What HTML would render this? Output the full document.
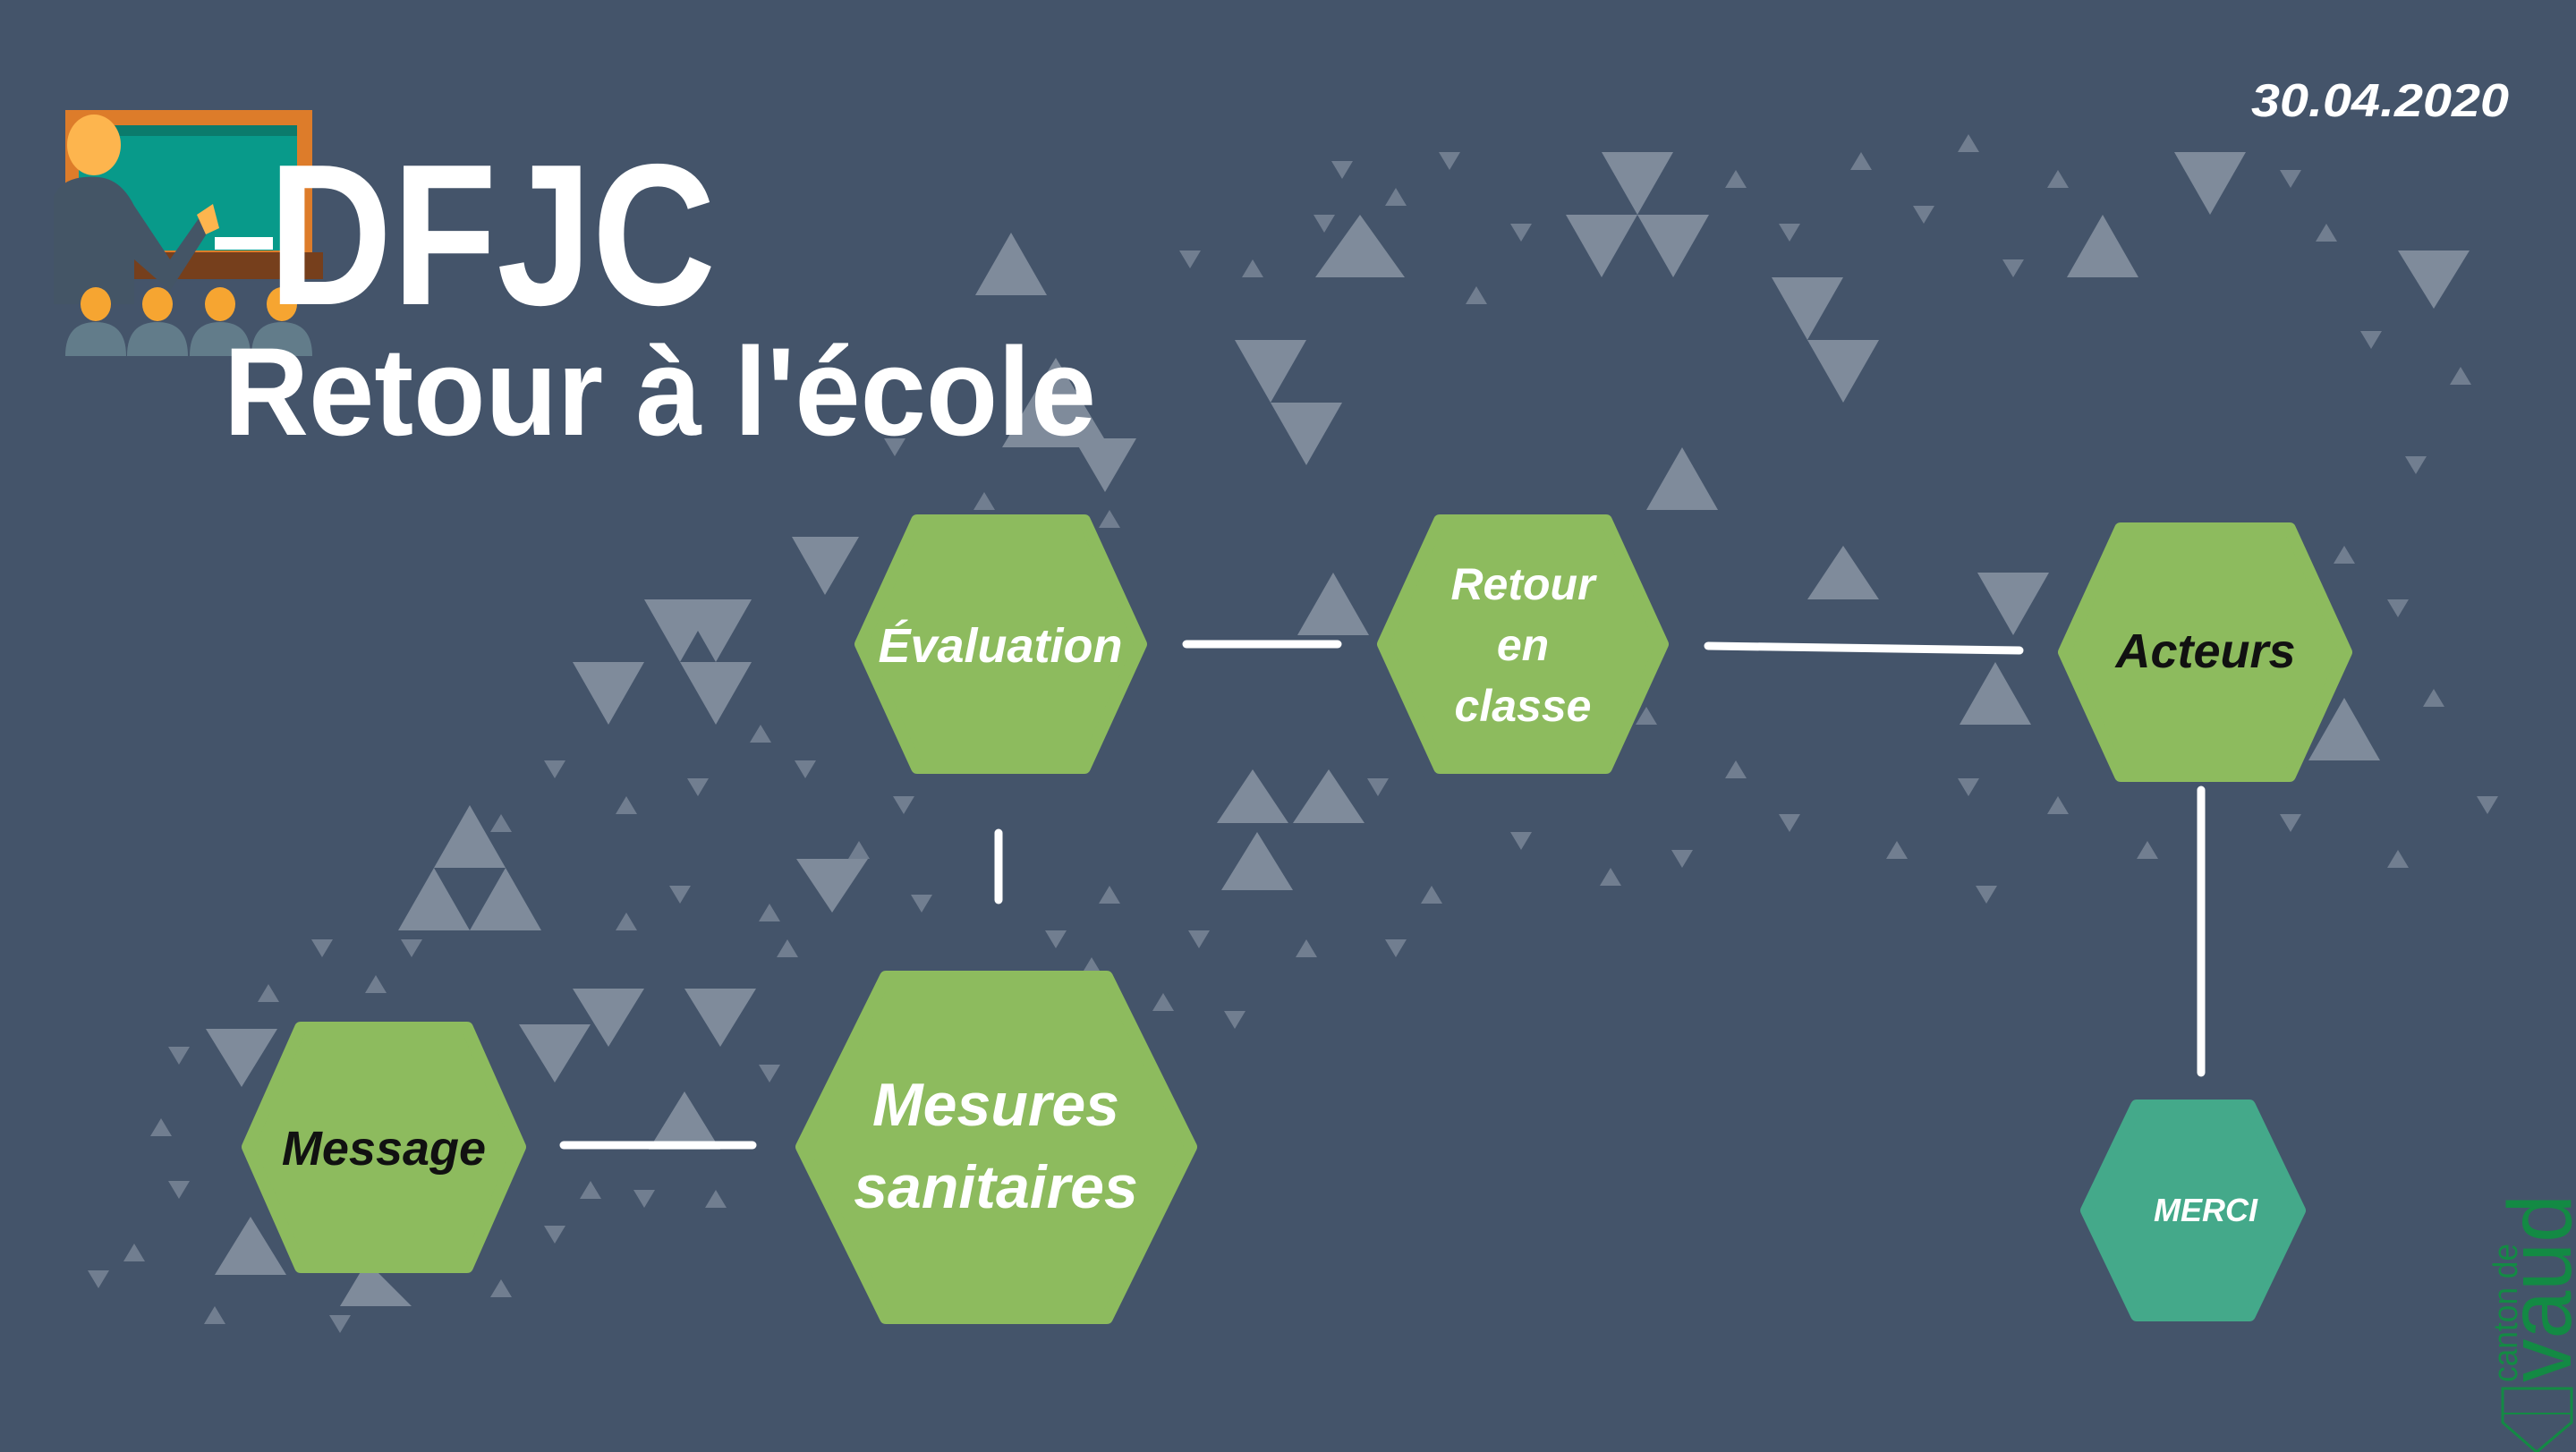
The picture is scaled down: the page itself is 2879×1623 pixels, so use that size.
<!DOCTYPE html>
<html><head><meta charset="utf-8"><style>
html,body{margin:0;padding:0;background:#44546a;}
svg{display:block}
</style></head><body>
<svg width="2879" height="1623" viewBox="0 0 2879 1623" xmlns="http://www.w3.org/2000/svg">
<defs>
<polygon id="u" points="-12,-10 12,-10 0,10"/>
<polygon id="d" points="-12,10 12,10 0,-10"/>
</defs>
<rect width="2879" height="1623" fill="#44546a"/>
<g fill="#c7cfd8" opacity="0.45">
<polygon points="1790,170 1870,170 1830,240"/><polygon points="1750,240 1830,240 1790,310"/><polygon points="1830,240 1910,240 1870,310"/>
<polygon points="1380,380 1460,380 1420,450"/><polygon points="1420,450 1500,450 1460,520"/>
<polygon points="1520,240 1570,310 1470,310"/><polygon points="1180,400 1240,500 1120,500"/><polygon points="1200,490 1270,490 1235,550"/>
<polygon points="1980,310 2060,310 2020,380"/><polygon points="2020,380 2100,380 2060,450"/>
<polygon points="2430,170 2510,170 2470,240"/><polygon points="2350,240 2390,310 2310,310"/>
<polygon points="2680,280 2760,280 2720,345"/>
<polygon points="1880,500 1920,570 1840,570"/><polygon points="2060,610 2100,670 2020,670"/>
<polygon points="1490,640 1530,710 1450,710"/><polygon points="885,600 960,600 922,665"/>
<polygon points="720,670 800,670 760,740"/><polygon points="760,670 840,670 800,740"/><polygon points="640,740 720,740 680,810"/><polygon points="760,740 840,740 800,810"/>
<polygon points="2210,640 2290,640 2250,710"/><polygon points="2230,740 2270,810 2190,810"/><polygon points="2620,780 2660,850 2580,850"/>
<polygon points="1400,860 1440,920 1360,920"/><polygon points="1485,860 1525,920 1445,920"/><polygon points="1405,930 1445,995 1365,995"/>
<polygon points="525,900 565,970 485,970"/><polygon points="485,970 525,1040 445,1040"/><polygon points="565,970 605,1040 525,1040"/>
<polygon points="890,960 970,960 930,1020"/>
<polygon points="640,1105 720,1105 680,1170"/><polygon points="765,1105 845,1105 805,1170"/><polygon points="580,1145 660,1145 620,1210"/>
<polygon points="230,1150 310,1150 270,1215"/><polygon points="280,1360 320,1425 240,1425"/>
<polygon points="765,1220 805,1285 725,1285"/><polygon points="410,1410 460,1460 380,1460"/>
<polygon points="1130,260 1170,330 1090,330"/>
</g>
<g fill="#c7cfd8" opacity="0.35">
<use href="#u" x="1330" y="290"/><use href="#d" x="1400" y="300"/><use href="#u" x="1500" y="190"/><use href="#d" x="1560" y="220"/>
<use href="#u" x="1620" y="180"/><use href="#d" x="1650" y="330"/><use href="#u" x="1700" y="260"/><use href="#d" x="1940" y="200"/>
<use href="#u" x="2000" y="260"/><use href="#d" x="2080" y="180"/><use href="#u" x="2150" y="240"/><use href="#d" x="2200" y="160"/>
<use href="#u" x="2250" y="300"/><use href="#d" x="2300" y="200"/><use href="#u" x="2560" y="200"/><use href="#d" x="2600" y="260"/>
<use href="#u" x="2650" y="380"/><use href="#d" x="2750" y="420"/><use href="#u" x="2700" y="520"/><use href="#d" x="2620" y="620"/>
<use href="#u" x="2680" y="680"/><use href="#d" x="2720" y="780"/><use href="#u" x="2780" y="900"/><use href="#d" x="2680" y="960"/>
<use href="#u" x="2560" y="920"/><use href="#d" x="2300" y="900"/><use href="#u" x="2200" y="880"/><use href="#d" x="2120" y="950"/>
<use href="#u" x="2000" y="920"/><use href="#d" x="1940" y="860"/><use href="#u" x="1880" y="960"/><use href="#d" x="1800" y="980"/>
<use href="#u" x="1700" y="940"/><use href="#d" x="1600" y="1000"/><use href="#u" x="1560" y="1060"/><use href="#d" x="1460" y="1060"/>
<use href="#u" x="1340" y="1050"/><use href="#d" x="1300" y="1120"/><use href="#u" x="1380" y="1140"/><use href="#d" x="1240" y="1000"/>
<use href="#u" x="1010" y="900"/><use href="#d" x="960" y="950"/><use href="#u" x="1030" y="1010"/><use href="#d" x="880" y="1060"/>
<use href="#u" x="900" y="860"/><use href="#d" x="850" y="820"/><use href="#u" x="780" y="880"/><use href="#d" x="700" y="900"/>
<use href="#u" x="620" y="860"/><use href="#d" x="560" y="920"/><use href="#u" x="460" y="1060"/><use href="#d" x="420" y="1100"/>
<use href="#u" x="360" y="1060"/><use href="#d" x="300" y="1110"/><use href="#u" x="200" y="1180"/><use href="#d" x="180" y="1260"/>
<use href="#u" x="200" y="1330"/><use href="#d" x="150" y="1400"/><use href="#u" x="110" y="1430"/><use href="#d" x="240" y="1470"/>
<use href="#u" x="380" y="1480"/><use href="#d" x="560" y="1440"/><use href="#u" x="620" y="1380"/><use href="#d" x="660" y="1330"/>
<use href="#u" x="720" y="1340"/><use href="#d" x="800" y="1340"/><use href="#u" x="860" y="1200"/><use href="#d" x="860" y="1020"/>
<use href="#u" x="760" y="1000"/><use href="#d" x="700" y="1030"/><use href="#u" x="1180" y="1050"/><use href="#d" x="1220" y="1080"/>
<use href="#u" x="1480" y="250"/><use href="#d" x="1100" y="560"/><use href="#u" x="1000" y="500"/><use href="#d" x="1240" y="580"/>
<use href="#u" x="1540" y="880"/><use href="#d" x="1840" y="800"/><use href="#u" x="2220" y="1000"/><use href="#d" x="2400" y="950"/>
</g>
<!-- icon -->
<rect x="73" y="123" width="276" height="172" fill="#dd7c2a"/>
<rect x="88" y="140" width="244" height="140" fill="#089a8a"/>
<rect x="88" y="140" width="244" height="12" fill="#0b7b6c"/>
<rect x="143" y="282" width="218" height="30" fill="#763f1c"/>
<rect x="240" y="265" width="65" height="14" fill="#fff"/>
<ellipse cx="105" cy="162" rx="30" ry="34" fill="#fdb54e"/>
<path d="M60 220 Q70 195 110 198 Q135 200 150 230 L190 290 L225 240 L235 255 L190 325 L150 290 L150 340 L60 340 Z" fill="#445566"/>
<path d="M220 240 L238 228 L245 255 L230 262 Z" fill="#fdb54e"/>
<g fill="#f6a531"><ellipse cx="107" cy="340" rx="17" ry="19"/><ellipse cx="176" cy="340" rx="17" ry="19"/><ellipse cx="246" cy="340" rx="17" ry="19"/><ellipse cx="315" cy="340" rx="17" ry="19"/></g>
<g fill="#627c8a"><path d="M73 398 Q73 360 107 360 Q141 360 141 398 Z"/><path d="M142 398 Q142 360 176 360 Q210 360 210 398 Z"/><path d="M212 398 Q212 360 246 360 Q280 360 280 398 Z"/><path d="M281 398 Q281 360 315 360 Q349 360 349 398 Z"/></g>
<text x="300" y="340" font-family="Liberation Sans, sans-serif" font-weight="bold" font-size="225" fill="#fff" textLength="500" lengthAdjust="spacingAndGlyphs">DFJC</text>
<text x="250" y="486" font-family="Liberation Sans, sans-serif" font-weight="bold" font-size="140" fill="#fff" textLength="975" lengthAdjust="spacingAndGlyphs">Retour à l'école</text>
<text x="2804" y="130" text-anchor="end" font-family="Liberation Sans, sans-serif" font-style="italic" font-weight="bold" font-size="52" fill="#fff" textLength="288" lengthAdjust="spacingAndGlyphs">30.04.2020</text>
<!-- connectors -->
<g stroke="#fff" stroke-width="9" stroke-linecap="round">
<line x1="1326" y1="720" x2="1495" y2="720"/>
<line x1="1909" y1="722" x2="2257" y2="727"/>
<line x1="1116" y1="931" x2="1116" y2="1006"/>
<line x1="630" y1="1280" x2="841" y2="1280"/>
<line x1="2460" y1="883" x2="2460" y2="1199"/>
</g>
<!-- hexes -->
<g fill="#8dbb5e" stroke="#8dbb5e" stroke-width="14" stroke-linejoin="round">
<polygon points="1025,582 1212,582 1275,720 1212,858 1025,858 962,720"/>
<polygon points="1609,582 1795,582 1858,720 1795,858 1609,858 1546,720"/>
<polygon points="2370,591 2559,591 2622,729 2559,867 2370,867 2307,729"/>
<polygon points="990,1092 1237,1092 1331,1282 1237,1473 990,1473 896,1282"/>
<polygon points="336,1149 522,1149 581,1282 522,1416 336,1416 277,1282"/>
</g>
<polygon points="2388,1236 2514,1236 2570,1353 2514,1470 2388,1470 2332,1353" fill="#44a98a" stroke="#44a98a" stroke-width="14" stroke-linejoin="round"/>
<g font-family="Liberation Sans, sans-serif" font-style="italic" font-weight="bold" text-anchor="middle">
<text x="1118" y="740" font-size="54" fill="#fff">Évaluation</text>
<text x="1702" y="670" font-size="50" fill="#fff">Retour</text>
<text x="1702" y="738" font-size="50" fill="#fff">en</text>
<text x="1702" y="806" font-size="50" fill="#fff">classe</text>
<text x="2465" y="746" font-size="54" fill="#111">Acteurs</text>
<text x="1113" y="1258" font-size="68" fill="#fff">Mesures</text>
<text x="1113" y="1350" font-size="68" fill="#fff">sanitaires</text>
<text x="429" y="1302" font-size="54" fill="#111">Message</text>
<text x="2465" y="1365" font-size="36" fill="#fff">MERCI</text>
</g>
<!-- vaud logo -->
<g fill="#138a44" font-family="Liberation Sans, sans-serif">
<text transform="translate(2873,1545) rotate(-90)" font-size="100" textLength="210" lengthAdjust="spacingAndGlyphs">vaud</text>
<text transform="translate(2813,1545) rotate(-90)" font-size="38" textLength="155" lengthAdjust="spacingAndGlyphs">canton de</text>
</g>
<path d="M2797 1552 L2874 1552 L2874 1590 L2835 1623 L2797 1590 Z" fill="none" stroke="#138a44" stroke-width="3"/>
<line x1="2797" y1="1580" x2="2874" y2="1580" stroke="#138a44" stroke-width="2"/>
</svg>
</body></html>
